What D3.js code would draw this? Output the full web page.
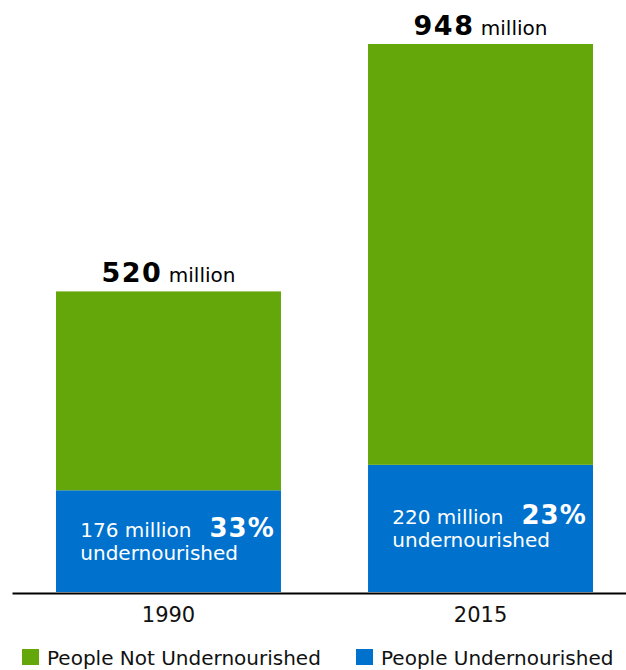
<!DOCTYPE html>
<html>
<head>
<meta charset="utf-8">
<script src="https://cdn.jsdelivr.net/npm/d3@7"></script>
<style>
  html, body { margin: 0; padding: 0; background: #ffffff; }
  svg { display: block; }
  text { font-family: "DejaVu Sans", "Liberation Sans", sans-serif; }
</style>
</head>
<body>
<svg id="chart" width="626" height="670"></svg>
<script>
// ---- data ----
const years = ["1990", "2015"];
const undernourished = [176, 220];          // million people
const notUndernourished = [344, 728];       // million people
const shareLabels = ["33%", "23%"];
const seriesNames = ["People Not Undernourished", "People Undernourished"];
const seriesColors = ["#63a70a", "#0072ce"];

// ---- layout ----
const baseY = 592, topY = 44;
const svg = d3.select("#chart");

const rows = years.map((y, i) => ({
  year: y,
  under: undernourished[i],
  notUnder: notUndernourished[i],
  share: shareLabels[i]
}));

const stack = d3.stack().keys(["under", "notUnder"]);
const series = stack(rows);
const totals = rows.map(d => d.under + d.notUnder);

const x = d3.scaleBand()
  .domain(years)
  .range([12, 637])
  .paddingInner(0.279)
  .paddingOuter(0.141);

const y = d3.scaleLinear()
  .domain([0, d3.max(totals)])
  .range([baseY, topY]);

const color = d3.scaleOrdinal()
  .domain(["notUnder", "under"])
  .range(seriesColors);

// axis (drawn first so bars sit on it)
const axisG = svg.append("g")
  .attr("transform", `translate(0,${baseY + 1})`)
  .call(d3.axisBottom(x).tickSize(0).tickSizeOuter(0));
axisG.select(".domain").attr("stroke", "#000").attr("stroke-width", 2);
axisG.selectAll(".tick text")
  .attr("y", 29).attr("dy", 0)
  .attr("fill", "#111")
  .style("font-family", "'DejaVu Sans', sans-serif")
  .style("font-size", "21px");

// bars
svg.append("g").selectAll("g")
  .data(series)
  .join("g")
  .attr("fill", s => color(s.key))
  .selectAll("rect")
  .data(s => s)
  .join("rect")
  .attr("x", d => x(d.data.year))
  .attr("width", x.bandwidth())
  .attr("y", d => y(d[1]))
  .attr("height", d => y(d[0]) - y(d[1]));

// total labels above bars
rows.forEach((d, i) => {
  const t = svg.append("text")
    .attr("x", x(d.year) + x.bandwidth() / 2)
    .attr("y", y(totals[i]) - 9)
    .attr("text-anchor", "middle")
    .attr("fill", "#000");
  t.append("tspan")
    .style("font-weight", "bold")
    .style("font-size", "27px")
    .style("letter-spacing", "1.5px")
    .text(totals[i]);
  t.append("tspan")
    .style("font-size", "20px")
    .text(" million");
});

// labels inside blue segments
rows.forEach((d, i) => {
  const segTop = y(d.under), segBot = y(0);
  const mid = (segTop + segBot) / 2;
  const g = svg.append("g");
  const line1 = g.append("text")
    .attr("y", mid - 4)
    .attr("fill", "#fff");
  line1.append("tspan").style("font-size", "20px").text(d.under + " million");
  line1.append("tspan").attr("dx", 18)
    .style("font-size", "26px").style("font-weight", "bold")
    .style("letter-spacing", "1px").text(d.share);
  g.append("text")
    .attr("y", mid + 19)
    .attr("fill", "#fff")
    .style("font-size", "20px")
    .text("undernourished");
  const w = line1.node().getComputedTextLength();
  g.attr("transform", `translate(${x(d.year) + x.bandwidth() / 2 - w / 2},0)`);
});

// legend
const legendX = [22, 356];
const leg = svg.append("g").selectAll("g")
  .data(seriesNames)
  .join("g")
  .attr("transform", (d, i) => `translate(${legendX[i]},649)`);
leg.append("rect")
  .attr("width", 17).attr("height", 16)
  .attr("fill", (d, i) => seriesColors[i]);
leg.append("text")
  .attr("x", 25).attr("y", 16)
  .attr("fill", "#111")
  .style("font-size", "20px")
  .text(d => d);
</script>
</body>
</html>
